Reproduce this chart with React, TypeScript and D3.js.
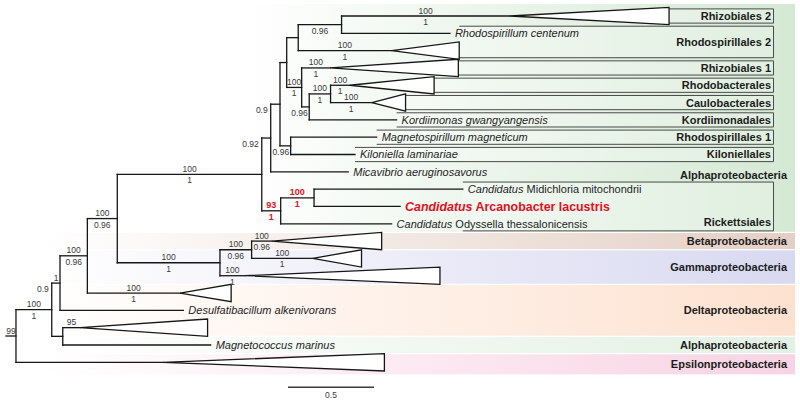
import React, { useEffect } from 'react';
import * as d3 from 'd3';

// ---------- DATA ----------
// tree topology: [node id, parent id, branch length (substitutions/site)]
type Branch = [string, string | null, number];
const branches: Branch[] = [
  ['root', null, 0],
  ['R', 'root', 0.058],
  ['B', 'R', 0.208],
  ['clade:Epsilonproteobacteria', 'R', 0.855],
  ['C', 'B', 0.048],
  ['MC', 'B', 0.064],
  ['D', 'C', 0.159],
  ['Desulfatibacillum alkenivorans', 'C', 0.717],
  ['E', 'D', 0.174],
  ['clade:Deltaproteobacteria', 'D', 0.539],
  ['O', 'E', 0.84],
  ['G', 'E', 0.597],
  ['N', 'O', 0.052],
  ['RK', 'O', 0.11],
  ['M', 'N', 0.054],
  ['Micavibrio aeruginosavorus', 'N', 0.451],
  ['P1', 'M', 0.039],
  ['K', 'M', 0.062],
  ['P2', 'P1', 0.067],
  ['Q', 'P1', 0.087],
  ['P3', 'P2', 0.252],
  ['clade:Rhodospirillales 2', 'P2', 0.543],
  ['clade:Rhizobiales 2', 'P3', 0.978],
  ['Rhodospirillum centenum', 'P3', 0.63],
  ['clade:Rhizobiales 1', 'Q', 0.165],
  ['T', 'Q', 0.044],
  ['U', 'T', 0.124],
  ['Kordiimonas gwangyangensis', 'T', 0.508],
  ['clade:Rhodobacterales', 'U', 0.112],
  ['clade:Caulobacterales', 'U', 0.24],
  ['Magnetospirillum magneticum', 'K', 0.5],
  ['Kiloniella laminariae', 'K', 0.374],
  ['S', 'RK', 0.194],
  ['Candidatus Odyssella thessalonicensis', 'RK', 0.645],
  ['Candidatus Midichloria mitochondrii', 'S', 0.865],
  ['Candidatus Arcanobacter lacustris', 'S', 0.5],
  ['H', 'G', 0.184],
  ['clade:Gammaproteobacteria 2', 'G', 0.145],
  ['clade:Betaproteobacteria', 'H', 0.118],
  ['clade:Gammaproteobacteria 1', 'H', 0.356],
  ['clade:Alphaproteobacteria 2', 'MC', 0.101],
  ['Magnetococcus marinus', 'MC', 0.86],
];

// order of tips from top to bottom
const tipOrder: string[] = [
  'clade:Rhizobiales 2',
  'Rhodospirillum centenum',
  'clade:Rhodospirillales 2',
  'clade:Rhizobiales 1',
  'clade:Rhodobacterales',
  'clade:Caulobacterales',
  'Kordiimonas gwangyangensis',
  'Magnetospirillum magneticum',
  'Kiloniella laminariae',
  'Micavibrio aeruginosavorus',
  'Candidatus Midichloria mitochondrii',
  'Candidatus Arcanobacter lacustris',
  'Candidatus Odyssella thessalonicensis',
  'clade:Betaproteobacteria',
  'clade:Gammaproteobacteria 1',
  'clade:Gammaproteobacteria 2',
  'clade:Deltaproteobacteria',
  'Desulfatibacillum alkenivorans',
  'clade:Alphaproteobacteria 2',
  'Magnetococcus marinus',
  'clade:Epsilonproteobacteria',
];

// depth (root-to-longest-tip) of collapsed clades
const collapsedDepth: Record<string, number> = {
  'clade:Rhizobiales 2': 0.926,
  'clade:Rhodospirillales 2': 0.393,
  'clade:Rhizobiales 1': 0.746,
  'clade:Rhodobacterales': 0.49,
  'clade:Caulobacterales': 0.196,
  'clade:Betaproteobacteria': 0.638,
  'clade:Gammaproteobacteria 1': 0.283,
  'clade:Gammaproteobacteria 2': 1.134,
  'clade:Deltaproteobacteria': 0.297,
  'clade:Alphaproteobacteria 2': 0.741,
  'clade:Epsilonproteobacteria': 1.287,
};

// support values: bootstrap (above branch) / posterior probability (below branch)
const supportAbove: Record<string, string> = {
  R: '99', B: '100', C: '1', 'clade:Alphaproteobacteria 2': '95',
  D: '100', 'clade:Deltaproteobacteria': '100', E: '100', O: '100', G: '100',
  H: '100', 'clade:Gammaproteobacteria 2': '100', 'clade:Betaproteobacteria': '100',
  'clade:Gammaproteobacteria 1': '100', RK: '93', S: '100', Q: '100',
  'clade:Rhodospirillales 2': '100', 'clade:Rhizobiales 2': '100',
  'clade:Rhizobiales 1': '100', U: '100', 'clade:Rhodobacterales': '100',
  'clade:Caulobacterales': '100',
};
const supportBelow: Record<string, string> = {
  B: '1', C: '0.9', D: '0.96', 'clade:Deltaproteobacteria': '1', E: '0.96', O: '1',
  G: '1', H: '0.96', 'clade:Gammaproteobacteria 2': '1', 'clade:Betaproteobacteria': '0.96',
  'clade:Gammaproteobacteria 1': '1', N: '0.92', RK: '1', S: '1', M: '0.9', K: '0.96',
  Q: '1', P3: '0.96', 'clade:Rhodospirillales 2': '1', 'clade:Rhizobiales 2': '1',
  'clade:Rhizobiales 1': '1', T: '0.96', U: '1', 'clade:Rhodobacterales': '1',
  'clade:Caulobacterales': '1',
};
// where a support label sits when its branch is too short
const placementAbove: Record<string, 'before' | 'end'> = { C: 'end' };
const placementBelow: Record<string, 'before' | 'end'> = {
  C: 'before', N: 'before', M: 'before', K: 'end', T: 'end',
};
const highlighted = ['RK', 'S', 'Candidatus Arcanobacter lacustris'];

// boxed orders (tip index ranges)
const orderNames = [
  'Rhizobiales 2', 'Rhodospirillales 2', 'Rhizobiales 1', 'Rhodobacterales',
  'Caulobacterales', 'Kordiimonadales', 'Rhodospirillales 1', 'Kiloniellales', 'Rickettsiales',
];
const orderFirstTip = [0, 1, 3, 4, 5, 6, 7, 8, 10];
const orderLastTip = [0, 2, 3, 4, 5, 6, 7, 8, 12];

// shaded classes (tip index ranges)
const classNames = [
  'Alphaproteobacteria', 'Betaproteobacteria', 'Gammaproteobacteria',
  'Deltaproteobacteria', 'Alphaproteobacteria', 'Epsilonproteobacteria',
];
const classFirstTip = [0, 13, 14, 16, 19, 20];
const classLastTip = [12, 13, 15, 18, 19, 20];

const scaleBarValue = 0.5;

// ---------- STYLE ----------
const classColors = ['#d4e9d4', '#e4cfc4', '#d8d9f0', '#fde1cf', '#e3f1e3', '#f8d3e3'];
const classFadeStart = [240, 40, 40, 40, 40, 40];
const FONT = "'Liberation Sans', Arial, Helvetica, sans-serif";
const LINE = '#161616';
const RED = '#e3101e';

type N = d3.HierarchyNode<Branch> & { dist?: number; yy?: number };

export default function App() {
  useEffect(() => {
    document.body.style.margin = '0';
  }, []);

  const W = 800;
  const H = 401;
  const x = d3.scaleLinear().domain([0, 1]).range([6, 178]);
  const y = d3.scaleLinear().domain([0, tipOrder.length - 1]).range([16, 362.3]);
  const step = y(1) - y(0);

  const root = d3
    .stratify<Branch>()
    .id((d) => d[0])
    .parentId((d) => d[1])(branches) as N;

  root.eachBefore((n: N) => {
    n.dist = ((n.parent as N)?.dist ?? 0) + n.data[2];
  });
  root.eachAfter((n: N) => {
    if (!n.children) n.yy = y(tipOrder.indexOf(n.id as string));
    else {
      const ys = n.children.map((c: N) => c.yy as number);
      n.yy = (d3.min(ys)! + d3.max(ys)!) / 2;
    }
  });
  const nodes = root.descendants() as N[];
  const byId = new Map(nodes.map((n) => [n.id as string, n]));
  const px = (n: N) => x(n.dist as number);
  const tipEnd = (id: string) => {
    const n = byId.get(id)!;
    return x((n.dist as number) + (collapsedDepth[id] ?? 0));
  };

  const tree: JSX.Element[] = [];
  const labels: JSX.Element[] = [];

  const place = (mode: 'before' | 'end' | undefined, p: N, n: N) => {
    if (mode === 'before') return { lx: px(p) - 3, anchor: 'end' as const };
    if (mode === 'end') return { lx: px(n) - 1.5, anchor: 'end' as const };
    return { lx: (px(p) + px(n)) / 2, anchor: 'middle' as const };
  };

  nodes.forEach((n) => {
    const id = n.id as string;
    if (n.parent) {
      const p = n.parent as N;
      tree.push(
        <line key={'h' + id} x1={px(p)} x2={px(n)} y1={n.yy} y2={n.yy} />
      );
      const red = highlighted.includes(id);
      const st = {
        fontSize: red ? 9 : 8.5,
        fontWeight: red ? 700 : 400,
        fill: red ? RED : '#3a3a3a',
      } as const;
      if (supportAbove[id]) {
        const { lx, anchor } = place(placementAbove[id], p, n);
        labels.push(
          <text key={'a' + id} x={lx} y={(n.yy as number) - 2.5} textAnchor={anchor} {...st}>
            {supportAbove[id]}
          </text>
        );
      }
      if (supportBelow[id]) {
        const { lx, anchor } = place(placementBelow[id], p, n);
        labels.push(
          <text key={'b' + id} x={lx} y={(n.yy as number) + 9} textAnchor={anchor} {...st}>
            {supportBelow[id]}
          </text>
        );
      }
    }
    if (n.children && n.children.length > 1) {
      const ys = n.children.map((c: N) => c.yy as number);
      tree.push(
        <line key={'v' + id} x1={px(n)} x2={px(n)} y1={d3.min(ys)} y2={d3.max(ys)} />
      );
    }
  });

  const triangles = nodes
    .filter((n) => collapsedDepth[n.id as string] !== undefined)
    .map((n) => {
      const x0 = px(n);
      const x1 = tipEnd(n.id as string);
      const y0 = n.yy as number;
      const h = step / 2;
      return (
        <polygon
          key={'t' + n.id}
          points={`${x0},${y0} ${x1},${y0 - h} ${x1},${y0 + h}`}
          fill="#ffffff"
          stroke={LINE}
          strokeWidth={1.3}
          strokeLinejoin="miter"
        />
      );
    });

  const leafLabels = nodes
    .filter((n) => !n.children && collapsedDepth[n.id as string] === undefined)
    .map((n) => {
      const id = n.id as string;
      const lx = px(n) + 5;
      const ly = n.yy as number;
      const red = highlighted.includes(id);
      if (id.startsWith('Candidatus ')) {
        const rest = id.slice('Candidatus '.length);
        return (
          <text
            key={'l' + id}
            x={lx}
            y={ly}
            dy="0.36em"
            fontSize={red ? 12.4 : 11}
            fontWeight={red ? 700 : 400}
            fill={red ? RED : '#1e1e1e'}
          >
            <tspan fontStyle="italic">Candidatus</tspan> {rest}
          </text>
        );
      }
      return (
        <text key={'l' + id} x={lx} y={ly} dy="0.36em" fontSize={11} fontStyle="italic" fill="#1e1e1e">
          {id}
        </text>
      );
    });

  // class bands
  const bandRight = 795;
  const bands = classNames.map((name, i) => {
    const top = y(classFirstTip[i]) - step / 2 + 0.6 - (i === 0 ? 4 : 0);
    const bottom = y(classLastTip[i]) + step / 2 - 0.6 + (i === classNames.length - 1 ? 4 : 0);
    return { name, i, top, bottom };
  });

  // order boxes
  const boxRight = 773.5;
  const boxes = orderNames.map((name, i) => {
    const top = y(orderFirstTip[i]) - 0.41 * step;
    const bottom = y(orderLastTip[i]) + 0.41 * step;
    const ids = tipOrder.slice(orderFirstTip[i], orderLastTip[i] + 1);
    const left = d3.max(ids, (id) => tipEnd(id))!;
    const multi = orderLastTip[i] - orderFirstTip[i] > 1;
    const ly = multi ? y(orderLastTip[i]) - 2 : (top + bottom) / 2;
    return { name, top, bottom, left, ly };
  });

  const sbLeft = 288;
  const sbRight = sbLeft + (x(scaleBarValue) - x(0));
  const sbY = 387.3;

  return (
    <svg
      width={W}
      height={H}
      viewBox={`0 0 ${W} ${H}`}
      style={{ position: 'absolute', left: 0, top: 0, display: 'block', background: '#fff' }}
      fontFamily={FONT}
    >
      <defs>
        {bands.map((b) => (
          <linearGradient
            key={'g' + b.i}
            id={'band' + b.i}
            gradientUnits="userSpaceOnUse"
            x1={classFadeStart[b.i]}
            x2={bandRight}
            y1={0}
            y2={0}
          >
            <stop offset="0" stopColor={classColors[b.i]} stopOpacity={0} />
            <stop offset="1" stopColor={classColors[b.i]} stopOpacity={1} />
          </linearGradient>
        ))}
      </defs>

      {bands.map((b) => (
        <rect
          key={'r' + b.i}
          x={classFadeStart[b.i]}
          y={b.top}
          width={bandRight - classFadeStart[b.i]}
          height={b.bottom - b.top}
          fill={`url(#band${b.i})`}
        />
      ))}

      {boxes.map((b) => (
        <g key={'box' + b.name}>
          <rect x={b.left} y={b.top} width={boxRight - b.left} height={b.bottom - b.top} fill="#ffffff" fillOpacity={0.25} />
          <path
            d={`M${b.left},${b.top}H${boxRight}V${b.bottom}H${b.left}`}
            fill="none"
            stroke="#4a4a4a"
            strokeWidth={1}
          />
        </g>
      ))}

      <g stroke={LINE} strokeWidth={1.3} strokeLinecap="square">
        {tree}
      </g>
      {triangles}
      <g>{labels}</g>
      <g>{leafLabels}</g>

      {boxes.map((b) => (
        <text
          key={'bt' + b.name}
          x={boxRight - 2.5}
          y={b.ly}
          dy="0.36em"
          textAnchor="end"
          fontSize={11}
          fontWeight={700}
          fill="#1c1c1c"
        >
          {b.name}
        </text>
      ))}

      {bands.map((b) => {
        const ricket = boxes[boxes.length - 1];
        const ly = b.i === 0 ? ricket.top - 0.4 * step : (b.top + b.bottom) / 2;
        return (
          <text
            key={'ct' + b.i}
            x={bandRight - 8}
            y={ly}
            dy="0.36em"
            textAnchor="end"
            fontSize={11}
            fontWeight={700}
            fill="#1c1c1c"
          >
            {b.name}
          </text>
        );
      })}

      <line x1={sbLeft} x2={sbRight} y1={sbY} y2={sbY} stroke="#3a3a3a" strokeWidth={1.5} />
      <text x={(sbLeft + sbRight) / 2} y={sbY + 11} textAnchor="middle" fontSize={8.5} fill="#3a3a3a">
        {scaleBarValue}
      </text>
    </svg>
  );
}
